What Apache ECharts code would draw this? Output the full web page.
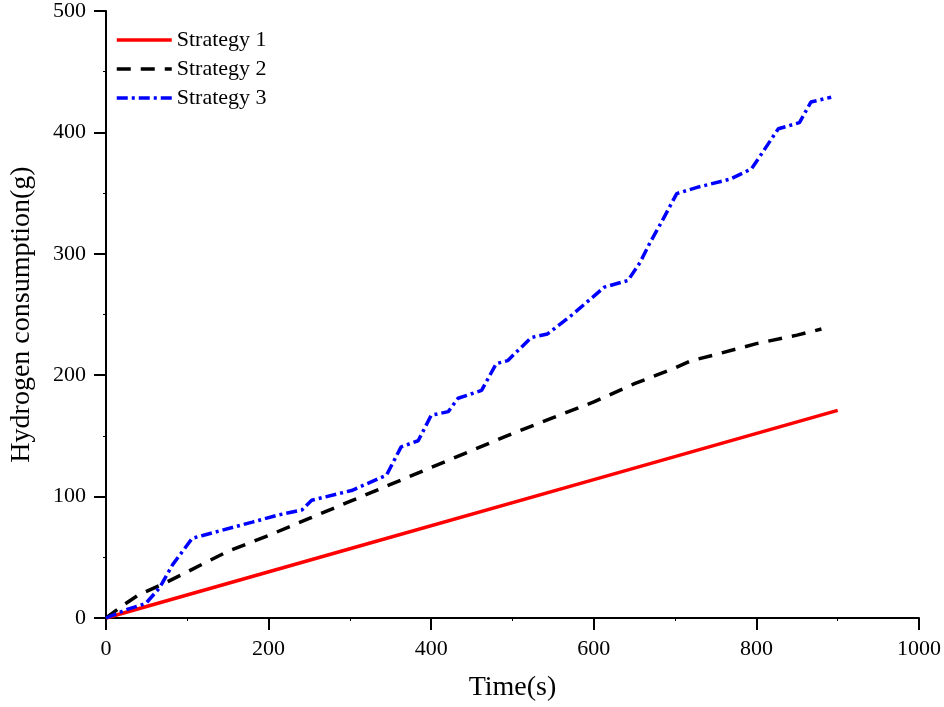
<!DOCTYPE html>
<html>
<head>
<meta charset="utf-8">
<script src="https://cdn.jsdelivr.net/npm/echarts@6/dist/echarts.min.js"></script>
<style>html,body{margin:0;padding:0;background:#fff;}#chart{width:944px;height:707px;}</style>
</head>
<body>
<div id="chart"></div>
<script>
var seriesNames = ['Strategy 1', 'Strategy 2', 'Strategy 3'];
var xTicks = [0, 200, 400, 600, 800, 1000];
var yTicks = [0, 100, 200, 300, 400, 500];

var strategy1 = [[0,0],[300,57],[600,114],[900,171]];
var strategy2 = [[0,0],[20,10],[40,19],[70,28],[100,38],[150,55],[200,68],[250,82],[300,96],[350,110],[400,124],[450,138],[500,152],[550,165],[600,178],[650,193],[700,206],[720,212],[750,217],[800,226],[850,233],[880,238]];
var strategy3 = [[0,0],[24,6.6],[49,12],[66,25],[82,44],[106,65.6],[119,68],[180,79],[213,85],[241,89],[253,97],[302,105],[345,117.6],[363,141],[384,146],[400,167],[421,170],[433,181],[462,187.5],[480,209.5],[494,212],[523,231],[543,234],[572,249],[613,272.5],[642,278],[657,293],[669,309],[684,327],[702,349.6],[727,354.7],[768,361.6],[794,370],[810,386],[827,403],[853,408],[867,425],[892,429]];

var font = 'Liberation Serif';
var chart = echarts.init(document.getElementById('chart'));
chart.setOption({
  animation: false,
  backgroundColor: '#fff',
  grid: {left: 100, right: 23, top: 10, bottom: 89},
  legend: {
    orient: 'vertical', left: 110, top: 24,
    itemWidth: 55, itemHeight: 14, itemGap: 7,
    itemStyle: {opacity: 0},
    lineStyle: {width: 3.5},
    textStyle: {fontFamily: font, fontSize: 22, color: '#000'},
    data: seriesNames
  },
  xAxis: {
    type: 'value', min: xTicks[0], max: xTicks[xTicks.length-1], interval: 200,
    name: 'Time(s)', nameLocation: 'middle', nameGap: 56,
    nameTextStyle: {fontFamily: font, fontSize: 28, color: '#000'},
    axisLine: {show: true, lineStyle: {color: '#000', width: 2}},
    axisTick: {show: true, length: 12, lineStyle: {color: '#000', width: 2}},
    minorTick: {show: true, splitNumber: 2, length: 3, lineStyle: {color: '#000', width: 1}},
    splitLine: {show: false},
    axisLabel: {fontFamily: font, fontSize: 22, color: '#000', margin: 20, formatter: function (v) { return String(v); }}
  },
  yAxis: {
    type: 'value', min: yTicks[0], max: yTicks[yTicks.length-1], interval: 100,
    name: 'Hydrogen consumption(g)', nameLocation: 'middle', nameGap: 70,
    nameTextStyle: {fontFamily: font, fontSize: 28, color: '#000'},
    axisLine: {show: true, lineStyle: {color: '#000', width: 2}},
    axisTick: {show: true, length: 12, lineStyle: {color: '#000', width: 2}},
    minorTick: {show: true, splitNumber: 2, length: 3, lineStyle: {color: '#000', width: 1}},
    splitLine: {show: false},
    axisLabel: {fontFamily: font, fontSize: 22, color: '#000', margin: 20, formatter: function (v) { return String(v); }}
  },
  series: [
    {name: seriesNames[0], type: 'line', data: strategy1, symbol: 'none',
     lineStyle: {color: '#ff0000', width: 3.5, type: 'solid'}, itemStyle: {color: '#ff0000'}},
    {name: seriesNames[1], type: 'line', data: strategy2, symbol: 'none',
     lineStyle: {color: '#000000', width: 3.5, type: [14, 10]}, itemStyle: {color: '#000000'}},
    {name: seriesNames[2], type: 'line', data: strategy3, symbol: 'none',
     lineStyle: {color: '#0000ff', width: 3.5, type: [11, 4, 3, 4]}, itemStyle: {color: '#0000ff'}}
  ]
});
</script>
</body>
</html>
